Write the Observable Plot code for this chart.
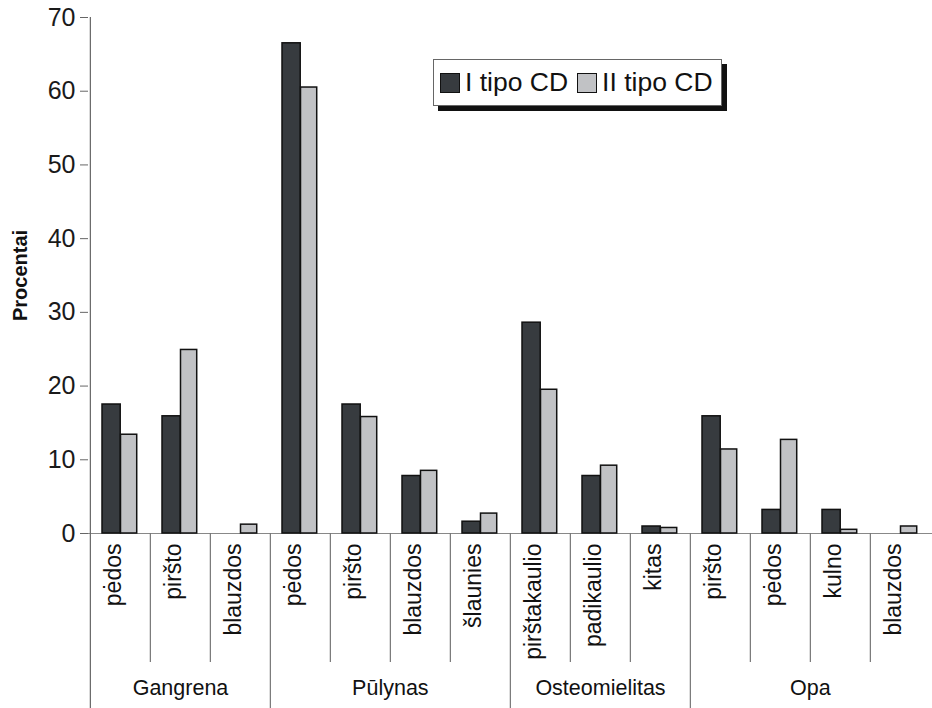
<!DOCTYPE html>
<html>
<head>
<meta charset="utf-8">
<script src="https://cdn.jsdelivr.net/npm/d3@7"></script>
<script src="https://cdn.jsdelivr.net/npm/@observablehq/plot@0.6"></script>
<style>
  html, body { margin: 0; padding: 0; background: #fff; }
  #wrap { position: relative; width: 932px; height: 708px; font-family: "Liberation Sans", Arial, sans-serif; }
  #legend { position: absolute; left: 433px; top: 59px; width: 289px; height: 47px; background: #fff;
            border: 1px solid #666; box-shadow: 5px 5px 0 #111; display: flex; align-items: center;
            font-size: 26.5px; color: #111; white-space: nowrap; box-sizing: border-box; padding-left: 6px; }
  .sw { display: inline-block; width: 18px; height: 18px; border: 1.5px solid #111; margin-right: 5px; }
  .item { display: inline-flex; align-items: center; margin-right: 9px; }
</style>
</head>
<body>
<div id="wrap"><div id="legend"></div></div>
<script>
const groups = ["Gangrena", "Pūlynas", "Osteomielitas", "Opa"];
const subcategories = [
  ["pėdos", "piršto", "blauzdos"],
  ["pėdos", "piršto", "blauzdos", "šlaunies"],
  ["pirštakaulio", "padikaulio", "kitas"],
  ["piršto", "pėdos", "kulno", "blauzdos"]
];
const seriesNames = ["I tipo CD", "II tipo CD"];
const typeI  = [17.5, 15.9, 0,   66.5, 17.5, 7.8, 1.6,  28.6, 7.8, 0.95,  15.9, 3.2, 3.2, 0];
const typeII = [13.4, 24.9, 1.2, 60.5, 15.8, 8.5, 2.7,  19.5, 9.2, 0.75,  11.4, 12.7, 0.5, 0.95];
const yTicks = [0, 10, 20, 30, 40, 50, 60, 70];
const yLabel = "Procentai";
const colors = ["#373b3f", "#c1c2c5"];

// build table
const cats = [];
groups.forEach((g, gi) => subcategories[gi].forEach((s, si) => cats.push({
  group: g, sub: s, key: g + "|" + s, first: si === 0
})));
const rows = [];
cats.forEach((c, i) => {
  rows.push({...c, series: seriesNames[0], value: typeI[i]});
  rows.push({...c, series: seriesNames[1], value: typeII[i]});
});
const groupLabels = groups.map((g, gi) => {
  const n = subcategories[gi].length;
  const mid = subcategories[gi][Math.floor(n / 2)];
  return {group: g, key: g + "|" + mid, even: n % 2 === 0};
});

const W = 932, H = 708, mT = 17, mB = 175, mL = 88, mR = 0;
const step = (W - mL - mR) / cats.length;
const plotH = H - mT - mB;

const barStyle = {stroke: "#111", strokeWidth: 1.5};
const insets = [
  {insetLeft: 12, insetRight: step - 30.5},
  {insetLeft: 30.5, insetRight: step - 47}
];

const seriesMarks = seriesNames.flatMap((s, i) => {
  const data = rows.filter(d => d.series === s);
  return [
    Plot.barY(data, {x: "key", y: "value", fill: colors[i], ...barStyle, ...insets[i]}),
    Plot.ruleY(data, {x: "key", y: "value", stroke: "#111", strokeWidth: 2.5, ...insets[i]})
  ];
});

const chart = Plot.plot({
  width: W, height: H,
  marginTop: mT, marginBottom: mB, marginLeft: mL, marginRight: mR,
  style: {fontFamily: "Liberation Sans, Arial, sans-serif", background: "transparent", overflow: "visible"},
  x: {type: "band", domain: cats.map(d => d.key), padding: 0, axis: null},
  y: {domain: [0, 70], axis: null},
  marks: [
    Plot.ruleY([0], {stroke: "#888", strokeWidth: 1.2}),
    ...seriesMarks,
    // y axis
    Plot.axisY({ticks: yTicks, tickSize: 8, tickPadding: 5, fontSize: 25, stroke: "#666", fill: "#1a1a1a", label: null}),
    Plot.text([yLabel], {frameAnchor: "left", textAnchor: "middle", dx: -68, rotate: -90, fontSize: 20, fontWeight: "bold", fill: "#111"}),
    // left axis line
    Plot.ruleX(cats.slice(0, 1), {x: "key", dx: -step / 2, insetTop: 0, insetBottom: -mB, stroke: "#666", strokeWidth: 1.2}),
    // group separators
    Plot.ruleX(cats.filter((d, i) => d.first && i > 0), {x: "key", dx: -step / 2, insetTop: plotH, insetBottom: -mB, stroke: "#777", strokeWidth: 1.2}),
    // subcategory separators
    Plot.ruleX(cats.filter(d => !d.first), {x: "key", dx: -step / 2, insetTop: plotH, insetBottom: -129, stroke: "#777", strokeWidth: 1.2}),
    // subcategory labels
    Plot.text(cats, {x: "key", text: "sub", frameAnchor: "bottom", rotate: -90, textAnchor: "end", dy: 10, fontSize: 23, fill: "#111"}),
    // group labels
    ...groupLabels.map(g => Plot.text([g], {x: "key", text: "group", frameAnchor: "bottom", dx: g.even ? -step / 2 : 0, dy: 161, fontSize: 21.5, fill: "#111"}))
  ]
});
const wrap = document.getElementById("wrap");
wrap.insertBefore(chart, wrap.firstChild);

const legend = document.getElementById("legend");
seriesNames.forEach((s, i) => {
  const item = document.createElement("span");
  item.className = "item";
  const sw = document.createElement("span");
  sw.className = "sw";
  sw.style.background = colors[i];
  item.appendChild(sw);
  item.appendChild(document.createTextNode(s));
  legend.appendChild(item);
});
</script>
</body>
</html>
